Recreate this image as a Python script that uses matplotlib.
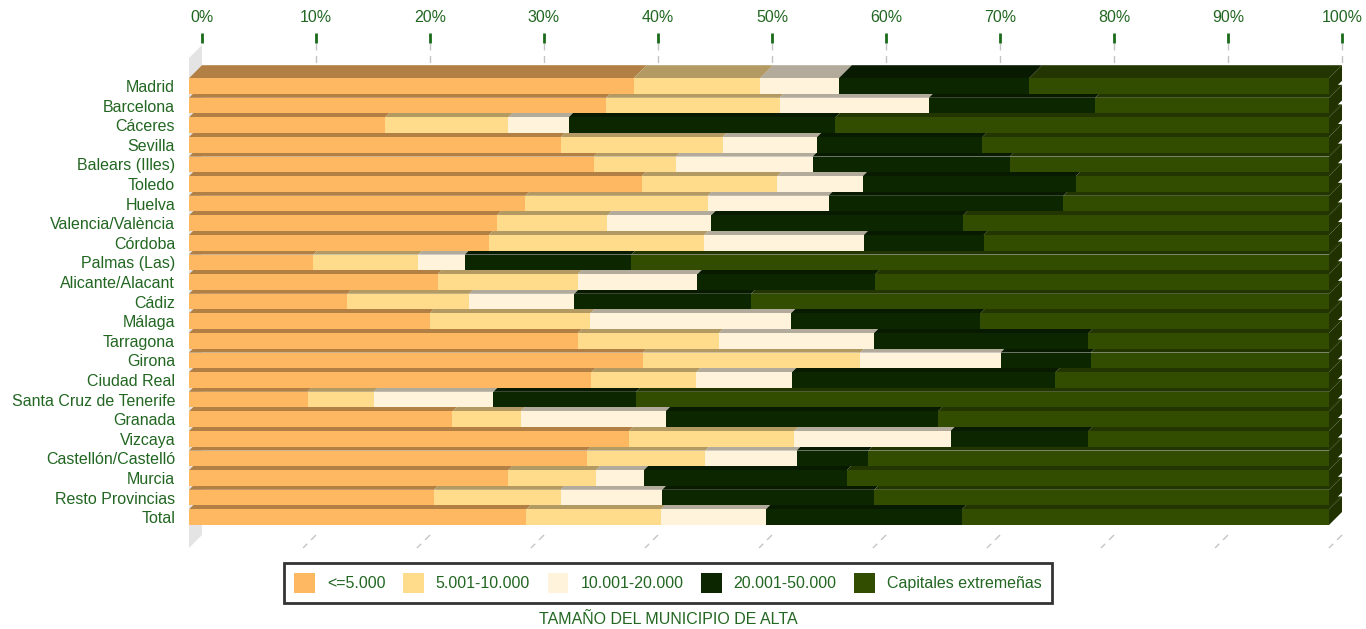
import numpy as np
import matplotlib.pyplot as plt
from matplotlib.patches import Polygon, Patch

plt.rcParams['font.family'] = ['Liberation Sans', 'DejaVu Sans']

# datos (% sobre el total de cada provincia)
provincias = ['Madrid', 'Barcelona', 'Cáceres', 'Sevilla', 'Balears (Illes)', 'Toledo',
              'Huelva', 'Valencia/València', 'Córdoba', 'Palmas (Las)', 'Alicante/Alacant',
              'Cádiz', 'Málaga', 'Tarragona', 'Girona', 'Ciudad Real',
              'Santa Cruz de Tenerife', 'Granada', 'Vizcaya', 'Castellón/Castelló',
              'Murcia', 'Resto Provincias', 'Total']
hasta_5000 = [39.0, 36.6, 17.2, 32.6, 35.5, 39.7, 29.5, 27.0, 26.3, 10.9, 21.8, 13.9,
              21.1, 34.1, 39.8, 35.3, 10.4, 23.1, 38.6, 34.9, 28.0, 21.5, 29.6]
de_5001_a_10000 = [11.1, 15.2, 10.8, 14.2, 7.2, 11.9, 16.0, 9.7, 18.9, 9.2, 12.3, 10.7,
                   14.1, 12.4, 19.1, 9.2, 5.8, 6.0, 14.5, 10.4, 7.7, 11.1, 11.8]
de_10001_a_20000 = [6.9, 13.1, 5.3, 8.3, 12.0, 7.5, 10.6, 9.1, 14.0, 4.1, 10.5, 9.2,
                    17.6, 13.6, 12.3, 8.4, 10.5, 12.7, 13.7, 8.0, 4.2, 8.9, 9.2]
de_20001_a_50000 = [16.7, 14.6, 23.4, 14.5, 17.3, 18.7, 20.6, 22.1, 10.5, 14.6, 15.6, 15.5,
                    16.6, 18.8, 7.9, 23.1, 12.5, 23.9, 12.1, 6.3, 17.8, 18.6, 17.2]
capitales = [26.3, 20.5, 43.3, 30.4, 28.0, 22.2, 23.3, 32.1, 30.3, 61.2, 39.8, 50.7,
             30.6, 21.1, 20.9, 24.0, 60.8, 34.3, 21.1, 40.4, 42.3, 39.9, 32.2]

series = ['<=5.000', '5.001-10.000', '10.001-20.000', '20.001-50.000', 'Capitales extremeñas']
colores = ['#ffb862', '#ffdc8c', '#fff3dc', '#0c2600', '#334d00']
verde = '#226622'

datos = np.array([hasta_5000, de_5001_a_10000, de_10001_a_20000, de_20001_a_50000, capitales]).T
n = len(provincias)

W, H = 1366, 629
fig = plt.figure(figsize=(W / 100, H / 100), dpi=100)

# geometria en pixeles -> coordenadas de datos
px_pct = 11.4        # pixeles por 1%
px_row = 19.6        # pixeles por fila
x0_px, y0_px = 189, 86
ax_top, ax_bot, ax_right = 43, 552, 1350
ax = fig.add_axes([x0_px / W, 1 - ax_bot / H, (ax_right - x0_px) / W, (ax_bot - ax_top) / H])
ax.set_xlim(0, (ax_right - x0_px) / px_pct)
ax.set_ylim((ax_bot - y0_px) / px_row, (ax_top - y0_px) / px_row)

h = 15.6 / px_row
dx = 13 / px_pct
dy = 13 / px_row


def darker(c, f):
    r, g, b = [int(c[i:i + 2], 16) for i in (1, 3, 5)]
    return '#%02x%02x%02x' % (int(r * f), int(g * f), int(b * f))


# pared izquierda
yt_f = (58 - y0_px) / px_row
yb_f = (548 - y0_px) / px_row
ax.add_patch(Polygon([(0, yt_f), (dx, yt_f - dy), (dx, yb_f - dy), (0, yb_f)],
                     closed=True, facecolor='#e4e4e4', edgecolor='none', zorder=0))

# lineas de la rejilla (arriba y suelo)
for k in range(1, 11):
    xb = k * 10 + dx
    ax.plot([xb, xb], [(ax_top - y0_px) / px_row, -h / 2 - dy], color='#c4c4c4',
            lw=1, ls=(0, (5, 4)), zorder=0)
    ax.plot([xb, k * 10], [yb_f - dy, yb_f], color='#c4c4c4', lw=1,
            ls=(0, (5, 4)), zorder=0)

# barras 3D, de abajo hacia arriba
z = 1
for i in range(n - 1, -1, -1):
    lefts = np.concatenate([[0], np.cumsum(datos[i])[:-1]])
    total = datos[i].sum()
    yt = i - h / 2
    for j in range(5):
        l, r = lefts[j], lefts[j] + datos[i, j]
        ax.add_patch(Polygon([(l, yt), (l + dx, yt - dy), (r + dx, yt - dy), (r, yt)],
                             closed=True, facecolor=darker(colores[j], 0.7),
                             edgecolor='none', zorder=z))
    ax.add_patch(Polygon([(total, yt), (total + dx, yt - dy), (total + dx, yt + h - dy),
                          (total, yt + h)], closed=True,
                         facecolor=darker(colores[4], 0.65), edgecolor='none', zorder=z))
    ax.barh([i] * 5, datos[i], left=lefts, height=h, color=colores, zorder=z + 1)
    z += 2

for s in ax.spines.values():
    s.set_visible(False)

ax.set_yticks(range(n))
ax.set_yticklabels(provincias, fontsize=11.5, color=verde)
ax.tick_params(axis='y', length=0, pad=10)

ticks = np.arange(0, 101, 10)
ax.set_xticks(ticks + dx)
ax.set_xticklabels([f'{t}%' for t in ticks], fontsize=11.5, color=verde)
ax.xaxis.tick_top()
ax.tick_params(axis='x', direction='out', length=7, width=2, color='#1a6a1a', pad=6)

handles = [Patch(facecolor=c, edgecolor='none') for c in colores]
leg = fig.legend(handles, series, loc='center', bbox_to_anchor=(668 / W, 1 - 583 / H),
                 ncol=5, fontsize=11.5, frameon=True, fancybox=False,
                 handlelength=1.3, handleheight=1.5, handletextpad=0.75,
                 columnspacing=1.1, borderpad=0.65)
leg.get_frame().set_edgecolor('black')
leg.get_frame().set_linewidth(2)
for t in leg.get_texts():
    t.set_color(verde)

fig.text(668 / W, 1 - 620 / H, 'TAMAÑO DEL MUNICIPIO DE ALTA', ha='center', va='center',
         fontsize=11.5, color=verde)

fig.savefig('out.png', dpi=100)
